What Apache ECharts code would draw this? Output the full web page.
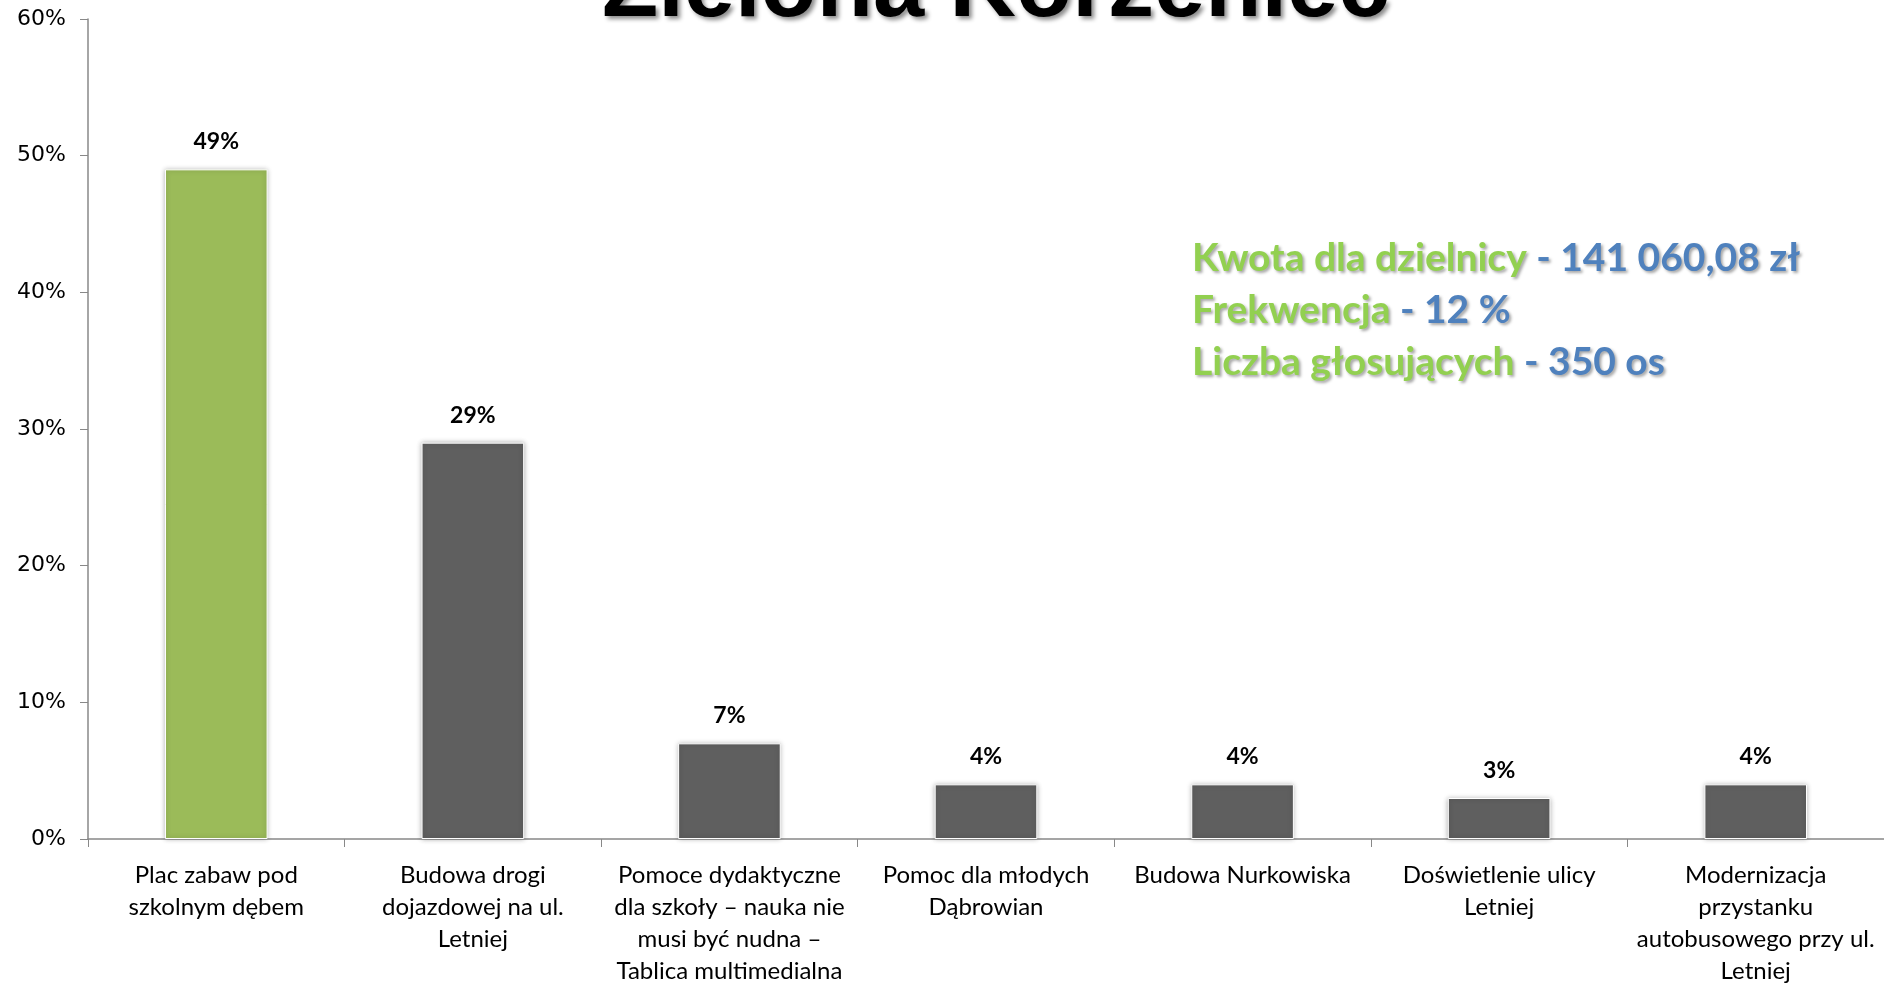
<!DOCTYPE html>
<html>
<head>
<meta charset="utf-8">
<script src="https://cdn.jsdelivr.net/npm/echarts@6/dist/echarts.min.js"></script>
<style>
    html, body { margin: 0; padding: 0; background: #fff; }
    #chart { width: 1884px; height: 983px; }
</style>
</head>
<body>
<div id="chart"></div>
<script>
// chart data
const categories = [
    'Plac zabaw pod\nszkolnym dębem',
    'Budowa drogi\ndojazdowej na ul.\nLetniej',
    'Pomoce dydaktyczne\ndla szkoły – nauka nie\nmusi być nudna –\nTablica multimedialna',
    'Pomoc dla młodych\nDąbrowian',
    'Budowa Nurkowiska',
    'Doświetlenie ulicy\nLetniej',
    'Modernizacja\nprzystanku\nautobusowego przy ul.\nLetniej'
];
const votes = [49, 29, 7, 4, 4, 3, 4];
const barColors = ['#9BBB59', '#5F5F5F', '#5F5F5F', '#5F5F5F', '#5F5F5F', '#5F5F5F', '#5F5F5F'];

const infoLines = [
    ['Kwota dla dzielnicy', '141 060,08 zł'],
    ['Frekwencja', '12 %'],
    ['Liczba głosujących', '350 os']
];

var chart = echarts.init(document.getElementById('chart'));

const labelFont = 'Lato, "Open Sans", sans-serif';

var option = {
    animation: false,
    backgroundColor: '#fff',
    title: {
        text: 'Zielona Korzeniec',
        left: 597,
        top: -60,
        textStyle: {
            fontFamily: '"Liberation Sans", Arial, sans-serif',
            fontWeight: 'bold',
            fontSize: 92,
            color: '#000',
            textShadowColor: 'rgba(0,0,0,0.45)',
            textShadowBlur: 4,
            textShadowOffsetX: 3,
            textShadowOffsetY: 3
        }
    },
    grid: {
        left: 88,
        right: 0,
        top: 19,
        bottom: 144,
        outerBoundsMode: 'none' // labels at the bottom are allowed to be cut off
    },
    xAxis: {
        type: 'category',
        data: categories,
        axisLine: { lineStyle: { color: '#888', width: 1.5 } },
        axisTick: { show: true, length: 8, lineStyle: { color: '#888' } },
        axisLabel: {
            interval: 0,
            margin: 20,
            fontFamily: labelFont,
            fontSize: 24,
            lineHeight: 32,
            color: '#000'
        }
    },
    yAxis: {
        type: 'value',
        min: 0,
        max: 60,
        interval: 10,
        splitLine: { show: false },
        axisLine: { show: true, lineStyle: { color: '#888', width: 1.5 } },
        axisTick: { show: true, length: 8, lineStyle: { color: '#888' } },
        axisLabel: {
            formatter: '{value}%',
            margin: 22,
            fontFamily: '"DejaVu Sans", sans-serif',
            fontSize: 22,
            color: '#000'
        }
    },
    series: [
        {
            type: 'bar',
            data: votes,
            barWidth: '40%',
            itemStyle: {
                color: function (p) { return barColors[p.dataIndex]; },
                borderColor: '#fff',
                borderWidth: 1,
                shadowColor: 'rgba(0,0,0,0.3)',
                shadowBlur: 5
            },
            label: {
                show: true,
                position: 'top',
                distance: 16,
                formatter: '{c}%',
                fontFamily: labelFont,
                fontWeight: 'bold',
                fontSize: 23,
                color: '#000'
            }
        }
    ],
    graphic: infoLines.map(function (line, i) {
        return {
            type: 'text',
            left: 1192,
            top: 239 + i * 52,
            style: {
                text: '{g|' + line[0] + '}{b| - ' + line[1] + '}',
                rich: {
                    g: { fill: '#92D050' },
                    b: { fill: '#4F81BD' }
                },
                fontFamily: labelFont,
                fontWeight: 'bold',
                fontSize: 39,
                textShadowColor: 'rgba(0,0,0,0.35)',
                textShadowBlur: 3,
                textShadowOffsetX: 2,
                textShadowOffsetY: 2
            }
        };
    })
};

chart.setOption(option);
</script>
</body>
</html>
